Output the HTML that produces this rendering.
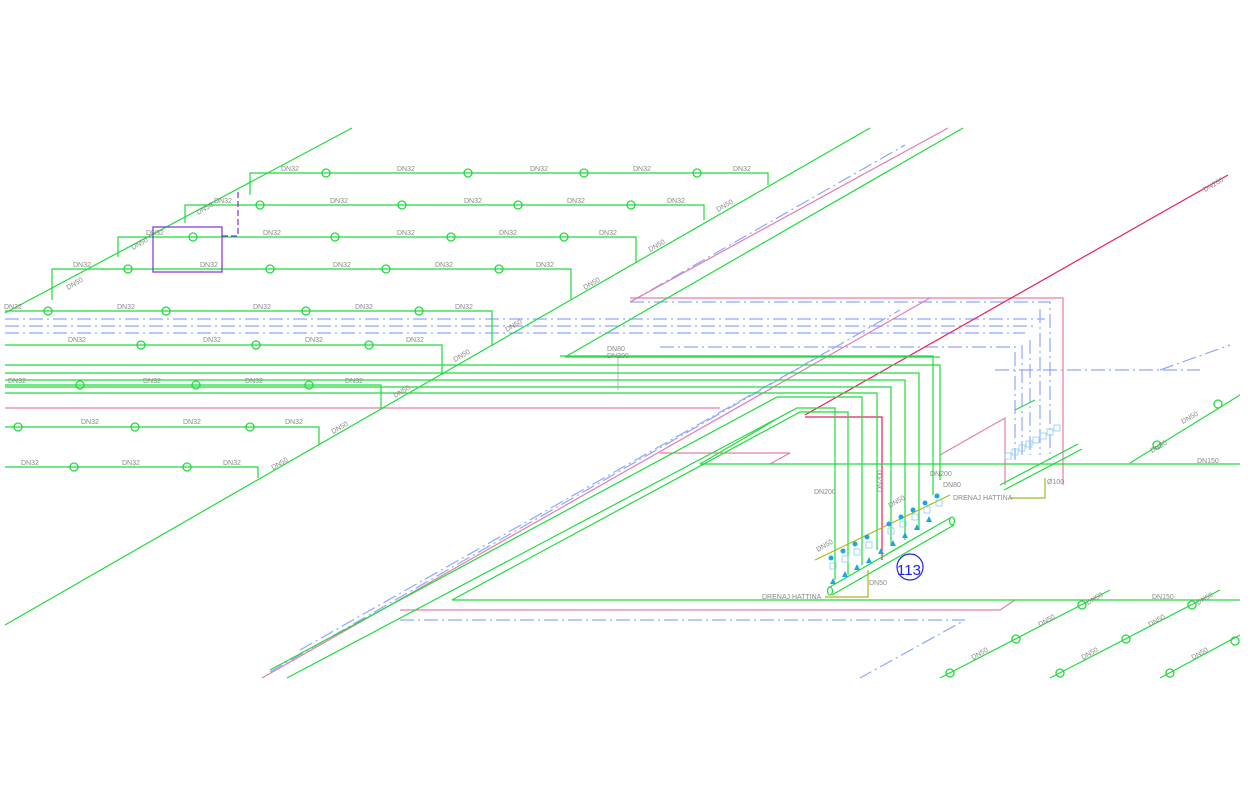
<!DOCTYPE html>
<html><head><meta charset="utf-8"><style>html,body{margin:0;padding:0;background:#fff}svg{display:block}text{font-family:"Liberation Sans",sans-serif;font-size:7px;fill:#888}</style></head><body>
<svg width="1250" height="800" viewBox="0 0 1250 800" xmlns="http://www.w3.org/2000/svg">
<g fill="none" stroke-width="1.2">
<g stroke="#8fa6ff" stroke-dasharray="14,4,2,4">
<line x1="5" y1="319" x2="1045" y2="319"/><line x1="5" y1="326" x2="1035" y2="326"/><line x1="5" y1="333" x2="1025" y2="333"/>
<polyline points="630,302 1050,302 1050,460"/>
<polyline points="660,347 1015,347 1015,460"/>
<line x1="630" y1="302" x2="905" y2="145"/>
<polyline points="995,370 1200,370"/><line x1="1160" y1="370" x2="1230" y2="345"/>
<polyline points="1040,309 1040,455"/><polyline points="1030,340 1030,455"/><polyline points="1022,345 1022,455"/>
<line x1="270" y1="672" x2="900" y2="310"/>
<line x1="300" y1="650" x2="830" y2="350"/>
<polyline points="400,620 965,620 860,678"/>
</g>
<g stroke="#e27fae">
<polyline points="630,298 1063,298 1063,485"/>
<line x1="5" y1="408" x2="720" y2="408"/>
<line x1="630" y1="302" x2="948" y2="128"/>
<line x1="262" y1="678" x2="930" y2="298"/>
<polyline points="400,610 1000,610 1015,600"/>
<polyline points="660,453 790,453 770,464"/>
<polyline points="940,455 1005,418 1005,485"/>
</g>
<line x1="805" y1="415" x2="1228" y2="175" stroke="#e8205a"/>
<polyline points="805,417 882,417 882,560" stroke="#e8205a"/>
<g stroke="#1fdc3c">
<line x1="5" y1="313" x2="352" y2="128"/>
<line x1="5" y1="625" x2="870" y2="128"/>
<line x1="565" y1="357" x2="963" y2="128"/>
<polyline points="250,195 250,173 768,173 768,185"/>
<polyline points="185,223 185,205 704,205 704,220"/>
<polyline points="118,257 118,237 636,237 636,262"/>
<polyline points="52,300 52,269 571,269 571,299"/>
<polyline points="5,311 492,311 492,345"/>
<polyline points="5,345 442,345 442,375"/>
<polyline points="5,385 381,385 381,408"/>
<polyline points="5,427 319,427 319,445"/>
<polyline points="5,467 258,467 258,478"/>
<polyline points="5,365 940,365 940,480"/>
<polyline points="565,357 940,357"/>
<polyline points="5,373 919,373 919,530"/>
<polyline points="5,380 905,380 905,540"/>
<polyline points="5,387 891,387 891,545"/>
<polyline points="5,393 877,393 877,550"/>
<polyline points="560,356 933,356 933,495"/>
<polyline points="700,464 1240,464"/>
<polyline points="452,600 1240,600"/>
<polyline points="287,678 797,408 835,408 835,580"/>
<polyline points="270,670 777,397 862,397 862,565"/>
<polyline points="452,600 800,412 848,412 848,575"/>
<polyline points="700,464 775,420"/>
<line x1="1130" y1="463" x2="1240" y2="395"/>
<line x1="940" y1="678" x2="1110" y2="590"/>
<line x1="1050" y1="678" x2="1220" y2="590"/>
<line x1="1160" y1="678" x2="1240" y2="635"/>
<line x1="1015" y1="410" x2="1035" y2="400"/>
<line x1="828" y1="588" x2="950" y2="518"/><line x1="832" y1="595" x2="954" y2="525"/>
<ellipse cx="830" cy="591" rx="2.5" ry="4"/><ellipse cx="952" cy="521" rx="2.5" ry="4"/>
<line x1="1000" y1="485" x2="1078" y2="444"/><line x1="1004" y1="490" x2="1082" y2="449"/>
<g stroke-width="1.3">
<circle cx="326" cy="173" r="4"/><circle cx="468" cy="173" r="4"/><circle cx="584" cy="173" r="4"/><circle cx="697" cy="173" r="4"/>
<circle cx="260" cy="205" r="4"/><circle cx="402" cy="205" r="4"/><circle cx="518" cy="205" r="4"/><circle cx="631" cy="205" r="4"/>
<circle cx="193" cy="237" r="4"/><circle cx="335" cy="237" r="4"/><circle cx="451" cy="237" r="4"/><circle cx="564" cy="237" r="4"/>
<circle cx="128" cy="269" r="4"/><circle cx="270" cy="269" r="4"/><circle cx="386" cy="269" r="4"/><circle cx="499" cy="269" r="4"/>
<circle cx="48" cy="311" r="4"/><circle cx="166" cy="311" r="4"/><circle cx="306" cy="311" r="4"/><circle cx="419" cy="311" r="4"/>
<circle cx="141" cy="345" r="4"/><circle cx="256" cy="345" r="4"/><circle cx="369" cy="345" r="4"/>
<circle cx="80" cy="385" r="4"/><circle cx="196" cy="385" r="4"/><circle cx="309" cy="385" r="4"/>
<circle cx="18" cy="427" r="4"/><circle cx="135" cy="427" r="4"/><circle cx="250" cy="427" r="4"/>
<circle cx="74" cy="467" r="4"/><circle cx="187" cy="467" r="4"/>
<circle cx="1157" cy="445" r="4"/><circle cx="1218" cy="404" r="4"/>
<circle cx="950" cy="673" r="4"/><circle cx="1016" cy="639" r="4"/><circle cx="1082" cy="605" r="4"/>
<circle cx="1060" cy="673" r="4"/><circle cx="1126" cy="639" r="4"/><circle cx="1192" cy="605" r="4"/>
<circle cx="1170" cy="673" r="4"/><circle cx="1235" cy="641" r="4"/>
</g>
</g>
<g stroke="#7a2ee0"><rect x="153" y="227" width="69" height="45"/><polyline points="222,236 238,236 238,192" stroke-dasharray="6,3"/></g>
<g stroke="#a8b820"><polyline points="825,597 868,597 868,570"/><polyline points="1010,498 1045,498 1045,478"/><line x1="815" y1="560" x2="950" y2="495"/></g>
<line x1="618" y1="355" x2="618" y2="390" stroke="#888" stroke-width="0.6"/>
<circle cx="910" cy="567" r="13" stroke="#2222ee" stroke-width="1.2"/>
<g fill="#19a8e0" stroke="none">
<circle cx="831" cy="558" r="2.5"/><circle cx="843" cy="551" r="2.5"/><circle cx="855" cy="544" r="2.5"/><circle cx="867" cy="537" r="2.5"/><circle cx="889" cy="524" r="2.5"/><circle cx="901" cy="517" r="2.5"/><circle cx="913" cy="510" r="2.5"/><circle cx="925" cy="503" r="2.5"/><circle cx="937" cy="496" r="2.5"/>
<path d="M833,578l3,6h-6zM845,571l3,6h-6zM857,564l3,6h-6zM869,557l3,6h-6zM881,548l3,6h-6zM893,540l3,6h-6zM905,532l3,6h-6zM917,524l3,6h-6zM929,516l3,6h-6z"/>
</g>
<g fill="none" stroke="#8ad0f0" stroke-width="0.8">
<rect x="830" y="563" width="6" height="6"/><rect x="842" y="556" width="6" height="6"/><rect x="854" y="549" width="6" height="6"/><rect x="866" y="542" width="6" height="6"/><rect x="888" y="528" width="6" height="6"/><rect x="900" y="521" width="6" height="6"/><rect x="912" y="514" width="6" height="6"/><rect x="924" y="507" width="6" height="6"/><rect x="936" y="500" width="6" height="6"/>
<rect x="1005" y="453" width="6" height="6"/><rect x="1012" y="449" width="6" height="6"/><rect x="1019" y="445" width="6" height="6"/><rect x="1026" y="441" width="6" height="6"/><rect x="1033" y="437" width="6" height="6"/><rect x="1040" y="433" width="6" height="6"/><rect x="1047" y="429" width="6" height="6"/><rect x="1054" y="425" width="6" height="6"/>
</g>
<text x="281" y="171">DN32</text><text x="397" y="171">DN32</text><text x="530" y="171">DN32</text><text x="633" y="171">DN32</text><text x="733" y="171">DN32</text>
<text x="214" y="203">DN32</text><text x="330" y="203">DN32</text><text x="464" y="203">DN32</text><text x="567" y="203">DN32</text><text x="667" y="203">DN32</text>
<text x="146" y="235">DN32</text><text x="263" y="235">DN32</text><text x="397" y="235">DN32</text><text x="499" y="235">DN32</text><text x="599" y="235">DN32</text>
<text x="73" y="267">DN32</text><text x="200" y="267">DN32</text><text x="333" y="267">DN32</text><text x="435" y="267">DN32</text><text x="536" y="267">DN32</text>
<text x="4" y="309">DN32</text><text x="117" y="309">DN32</text><text x="253" y="309">DN32</text><text x="355" y="309">DN32</text><text x="455" y="309">DN32</text>
<text x="68" y="342">DN32</text><text x="203" y="342">DN32</text><text x="305" y="342">DN32</text><text x="406" y="342">DN32</text>
<text x="8" y="383">DN32</text><text x="143" y="383">DN32</text><text x="245" y="383">DN32</text><text x="345" y="383">DN32</text>
<text x="81" y="424">DN32</text><text x="183" y="424">DN32</text><text x="285" y="424">DN32</text>
<text x="21" y="465">DN32</text><text x="122" y="465">DN32</text><text x="223" y="465">DN32</text>
<g>
<text transform="translate(68,290) rotate(-30)">DN50</text>
<text transform="translate(133,250) rotate(-30)">DN50</text>
<text transform="translate(198,215) rotate(-30)">DN50</text>
<text transform="translate(273,470) rotate(-30)">DN50</text>
<text transform="translate(333,434) rotate(-30)">DN50</text>
<text transform="translate(395,398) rotate(-30)">DN50</text>
<text transform="translate(455,362) rotate(-30)">DN50</text>
<text transform="translate(507,332) rotate(-30)">DN50</text>
<text transform="translate(585,290) rotate(-30)">DN50</text>
<text transform="translate(650,252) rotate(-30)">DN50</text>
<text transform="translate(718,212) rotate(-30)">DN50</text>
<text transform="translate(1205,192) rotate(-30)">DN200</text>
<text transform="translate(1152,453) rotate(-30)">DN50</text>
<text transform="translate(1183,424) rotate(-30)">DN50</text>
<text transform="translate(973,660) rotate(-30)">DN50</text>
<text transform="translate(1040,627) rotate(-30)">DN50</text>
<text transform="translate(1088,605) rotate(-30)">DN50</text>
<text transform="translate(1083,660) rotate(-30)">DN50</text>
<text transform="translate(1150,627) rotate(-30)">DN50</text>
<text transform="translate(1198,605) rotate(-30)">DN50</text>
<text transform="translate(1193,660) rotate(-30)">DN50</text>
<text transform="translate(818,552) rotate(-30)">DN50</text>
<text transform="translate(890,508) rotate(-30)">DN50</text>
<text transform="translate(882,492) rotate(-90)">DN200</text>
</g>
<text x="607" y="351">DN80</text><text x="607" y="358">DN200</text>
<text x="814" y="494">DN200</text><text x="930" y="476">DN200</text><text x="943" y="487">DN80</text>
<text x="869" y="585">DN50</text><text x="1197" y="463">DN150</text><text x="1152" y="599">DN150</text>
<text x="762" y="599" font-size="7.5">DRENAJ HATTINA</text><text x="953" y="500" font-size="7.5">DRENAJ HATTINA</text><text x="1047" y="484">Ø100</text>
<text x="897" y="575" style="font-size:15px;fill:#2222ee">113</text>
</svg>
</body></html>
